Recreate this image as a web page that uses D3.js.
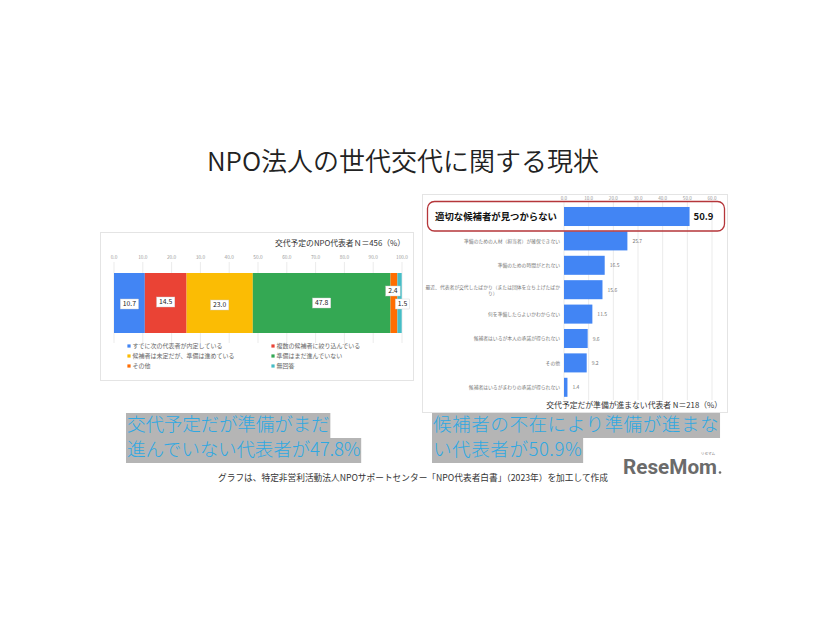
<!DOCTYPE html>
<html><head><meta charset="utf-8">
<script src="https://cdn.jsdelivr.net/npm/d3@7"></script>
<style>
html,body{margin:0;padding:0;background:#fff;}
svg{display:block;font-family:"Noto Sans CJK JP","Noto Sans",sans-serif;}
</style></head><body>
<svg id="c" width="826" height="620"></svg>
<script>
// ---------- data ----------
const title = "NPO法人の世代交代に関する現状";

const stackCategories = ["すでに次の代表者が内定している","複数の候補者に絞り込んでいる","候補者は未定だが、準備は進めている","準備はまだ進んでいない","その他","無回答"];
const stackValues = [10.7, 14.5, 23.0, 47.8, 2.4, 1.5];
const stackColors = ["#4285F4","#EA4335","#FBBC04","#34A853","#FF6D01","#46BDC6"];
const stackTicks = [0,10,20,30,40,50,60,70,80,90,100];
const stackNote = "交代予定のNPO代表者Ｎ＝456（%）";

const reasonCategories = ["適切な候補者が見つからない","準備のための人材（担当者）が確保できない","準備のための時間がとれない","最近、代表者が交代したばかり（または団体を立ち上げたばかり）","何を準備したらよいかわからない","候補者はいるが本人の承諾が得られない","その他","候補者はいるがまわりの承諾が得られない"];
const reasonValues = [50.9, 25.7, 16.5, 15.6, 11.5, 9.6, 9.2, 1.4];
const reasonTicks = [0,10,20,30,40,50,60];
const reasonNote = "交代予定だが準備が進まない代表者 N＝218（%）";

const captionLeft = ["交代予定だが準備がまだ","進んでいない代表者が47.8%"];
const captionRight = ["候補者の不在により準備が進まな","い代表者が50.9%"];
const source = "グラフは、特定非営利活動法人NPOサポートセンター「NPO代表者白書」（2023年）を加工して作成";

// ---------- drawing ----------
const svg = d3.select("#c");

svg.append("text").attr("x",403).attr("y",171).attr("text-anchor","middle")
  .attr("font-size",26).attr("font-weight",350).attr("fill","#222").text(title);

// ===== Left stacked bar panel =====
const L = svg.append("g");
L.append("rect").attr("x",100.5).attr("y",232.5).attr("width",313).attr("height",148)
  .attr("fill","#fff").attr("stroke","#e4e4e4");
L.append("text").attr("x",405).attr("y",246).attr("text-anchor","end")
  .attr("font-size",7.8).attr("fill","#333").text(stackNote);

const xs = d3.scaleLinear().domain([0,100]).range([114,402]);
const barTop = 273, barBot = 333;
L.append("g").selectAll("line").data(stackTicks).join("line")
  .attr("x1",d=>xs(d)).attr("x2",d=>xs(d)).attr("y1",262).attr("y2",343)
  .attr("stroke","#e2e2e2").attr("stroke-width",0.7);
L.append("g").selectAll("text").data(stackTicks).join("text")
  .attr("x",d=>xs(d)).attr("y",259).attr("text-anchor","middle")
  .attr("font-size",4.8).attr("fill","#999").text(d=>d.toFixed(1));

const cum = d3.cumsum(stackValues);
const segs = stackValues.map((v,i)=>({v, c:stackColors[i], x0: cum[i]-v, x1: cum[i]}));
L.append("g").selectAll("rect").data(segs).join("rect")
  .attr("x",d=>xs(d.x0)).attr("width",d=>xs(d.x1)-xs(d.x0))
  .attr("y",barTop).attr("height",barBot-barTop).attr("fill",d=>d.c);

const labelShiftY = [1,-1,2,0,-12,1];
const labelShiftX = [0,0,0,0,-1,3];
const lg = L.append("g");
segs.forEach((d,i)=>{
  const cx = (xs(d.x0)+xs(d.x1))/2 + labelShiftX[i];
  const cy = (barTop+barBot)/2 + labelShiftY[i];
  const t = lg.append("text").attr("x",cx).attr("y",cy+2.3).attr("text-anchor","middle")
    .attr("font-size",6.8).attr("fill","#222").text(d.v.toFixed(1));
  const w = t.node().getComputedTextLength()+5;
  lg.insert("rect","text").attr("x",cx-w/2).attr("y",cy-5).attr("width",w).attr("height",10)
    .attr("fill","#fff").attr("stroke","#ccc").attr("stroke-width",0.4);
});
lg.selectAll("text").raise();

const legendPos = [[129,346],[273,346],[129,356],[273,356],[129,366],[273,366]];
const leg = L.append("g");
stackCategories.forEach((c,i)=>{
  const [x,y] = legendPos[i];
  leg.append("rect").attr("x",x-1.6).attr("y",y-1.6).attr("width",3.2).attr("height",3.2).attr("fill",stackColors[i]);
  leg.append("text").attr("x",x+3.5).attr("y",y+2).attr("font-size",6).attr("fill","#666").text(c);
});

// ===== Right horizontal bar panel =====
const R = svg.append("g");
R.append("rect").attr("x",422.5).attr("y",194.5).attr("width",305).attr("height",218)
  .attr("fill","#fff").attr("stroke","#e4e4e4");

const xr = d3.scaleLinear().domain([0,60]).range([564,712]);
const yr = d3.scaleBand().domain(reasonCategories).range([204.3,399.5]).paddingInner(0.22).paddingOuter(0.11);

R.append("g").selectAll("line").data(reasonTicks).join("line")
  .attr("x1",d=>xr(d)).attr("x2",d=>xr(d)).attr("y1",201).attr("y2",400)
  .attr("stroke","#e2e2e2").attr("stroke-width",0.7);
R.append("g").selectAll("text").data(reasonTicks).join("text")
  .attr("x",d=>xr(d)).attr("y",199.5).attr("text-anchor","middle")
  .attr("font-size",4.6).attr("fill","#999").text(d=>d.toFixed(1));

R.append("g").selectAll("rect").data(reasonValues).join("rect")
  .attr("x",xr(0)).attr("y",(d,i)=>yr(reasonCategories[i]))
  .attr("width",d=>xr(d)-xr(0)).attr("height",yr.bandwidth()).attr("fill","#4285F4");

// highlight box
R.append("rect").attr("x",427.5).attr("y",201.5).attr("width",297).attr("height",29.5)
  .attr("rx",7).attr("fill","none").attr("stroke","#b5363a").attr("stroke-width",1.3);

reasonCategories.forEach((c,i)=>{
  const cy = yr(c)+yr.bandwidth()/2;
  const v = reasonValues[i];
  if(i===0){
    R.append("text").attr("x",435).attr("y",cy+3.4).attr("font-size",9.4).attr("font-weight","bold")
      .attr("fill","#111").text(c);
    R.append("text").attr("x",xr(v)+4).attr("y",cy+3.4).attr("font-size",9.5).attr("font-weight","bold")
      .attr("fill","#111").text(v.toFixed(1));
  } else {
    if(c.length>28){
      const a = c.slice(0, c.length-2), b = c.slice(c.length-2);
      const t1 = R.append("text").attr("text-anchor","end").attr("font-size",4.8).attr("fill","#777")
        .attr("x",560).attr("y",cy-1).text(a);
      const w1 = t1.node().getComputedTextLength();
      R.append("text").attr("text-anchor","middle").attr("font-size",4.8).attr("fill","#777")
        .attr("x",560-w1/2).attr("y",cy+5.2).text(b);
    } else {
      R.append("text").attr("text-anchor","end").attr("font-size",4.8).attr("fill","#777")
        .attr("x",560).attr("y",cy+1.8).text(c);
    }
    R.append("text").attr("x",xr(v)+5).attr("y",cy+2).attr("font-size",5).attr("fill","#777").text(v.toFixed(1));
  }
});

R.append("text").attr("x",722).attr("y",408).attr("text-anchor","end")
  .attr("font-size",7.8).attr("fill","#333").text(reasonNote);

// ===== Captions =====
function caption(lines, x, y0, ls){
  const g = svg.append("g");
  lines.forEach((s,i)=>{
    const y = y0 + i*25;
    const t = g.append("text").attr("x",x).attr("y",y).attr("font-size",18.6).attr("font-weight",300)
      .attr("letter-spacing",ls).attr("fill","#2fa8e2").text(s);
    const w = t.node().getComputedTextLength();
    g.insert("rect","text").attr("x",x-1).attr("y",y-18).attr("width",w+2).attr("height",25).attr("fill","#b5b5b5");
  });
  g.selectAll("text").raise();
}
caption(captionLeft,127,431,-0.2);
caption(captionRight,433,431,0.5);

svg.append("text").attr("x",413).attr("y",481).attr("text-anchor","middle")
  .attr("font-size",8.7).attr("fill","#333").text(source);

// logo
svg.append("text").attr("x",623).attr("y",474).attr("font-family","Roboto, 'Liberation Sans', sans-serif")
  .attr("font-weight","bold").attr("font-size",20).attr("textLength",94).attr("lengthAdjust","spacingAndGlyphs")
  .attr("fill","#6b6b6b").text("ReseMom");
svg.append("text").attr("x",708).attr("y",455).attr("text-anchor","middle").attr("font-size",3.6)
  .attr("fill","#777").text("リセマム");
svg.append("circle").attr("cx",720).attr("cy",472.5).attr("r",1.3).attr("fill","#6b6b6b");
</script>
</body></html>
